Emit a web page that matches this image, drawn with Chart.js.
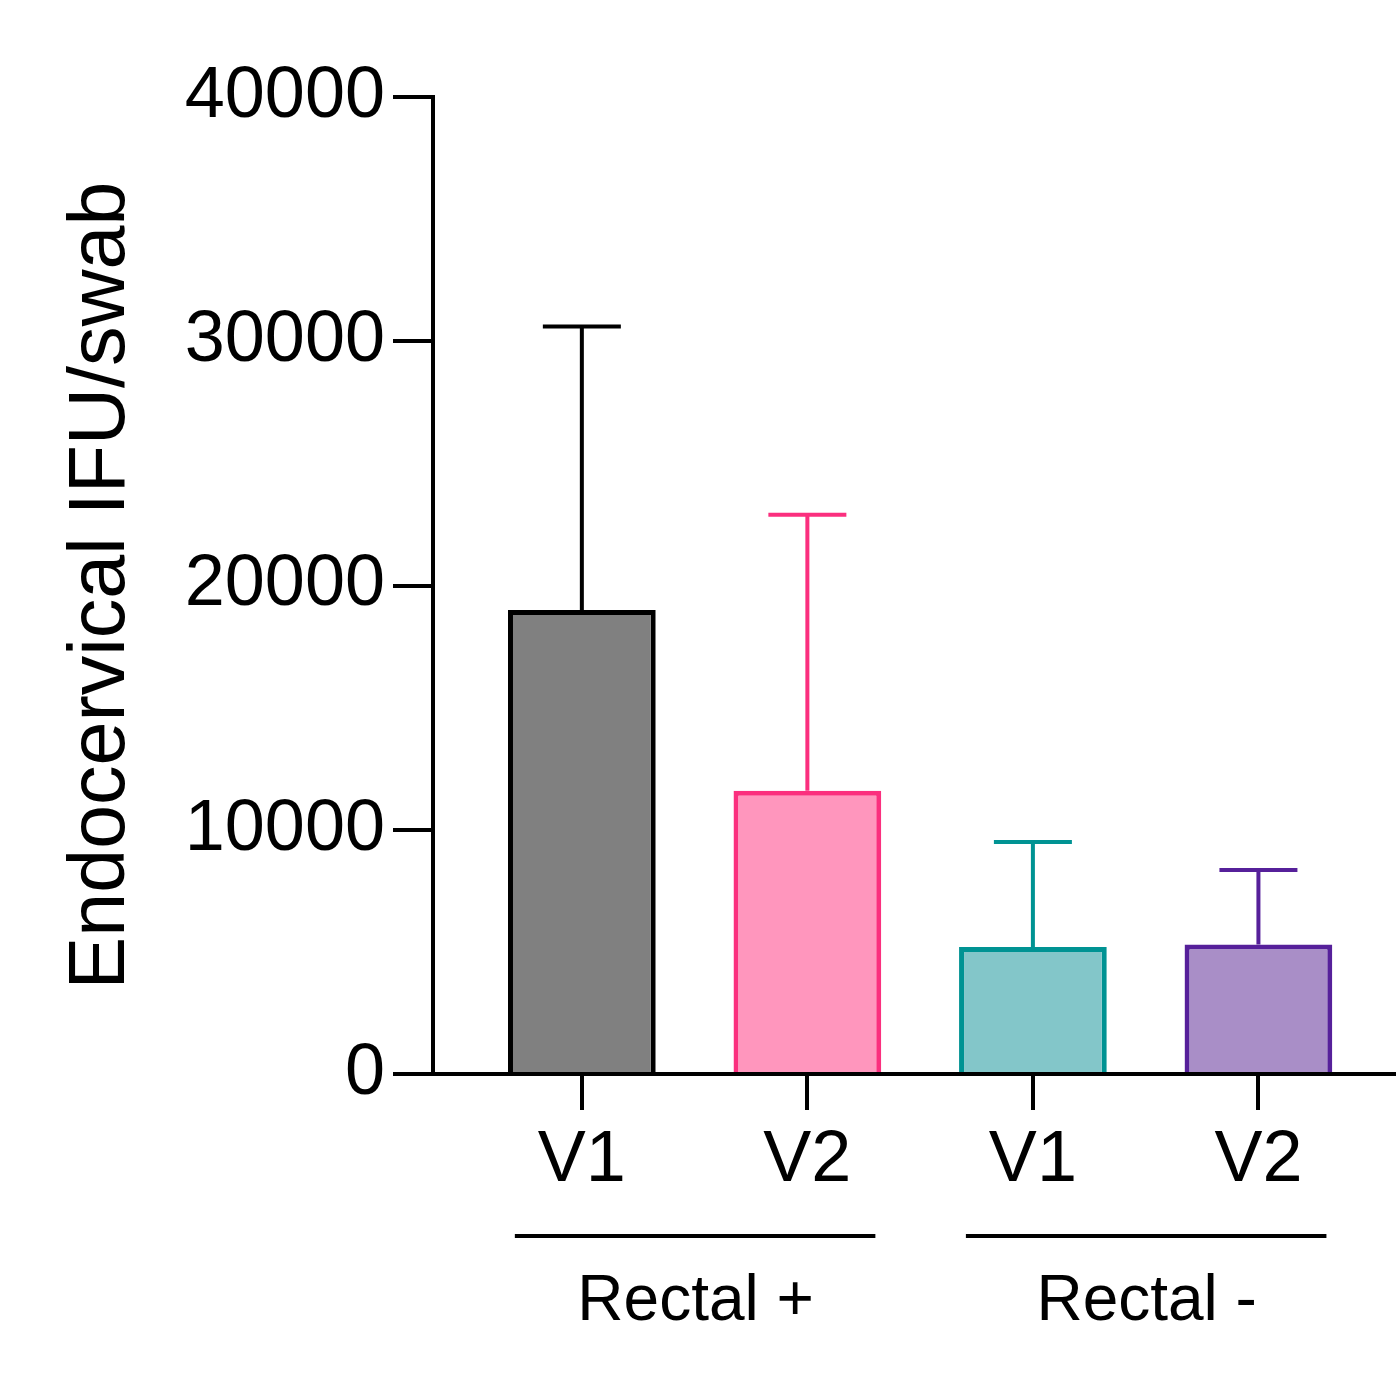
<!DOCTYPE html>
<html>
<head>
<meta charset="utf-8">
<script src="https://cdn.jsdelivr.net/npm/chart.js@4.4.1/dist/chart.umd.min.js"></script>
<style>
  html, body { margin: 0; padding: 0; background: #fff; }
  #wrap { width: 1396px; height: 1382px; }
</style>
</head>
<body>
<div id="wrap"><canvas id="barIFU"></canvas></div>
<script>
// dados
const categories = ['V1', 'V2', 'V1', 'V2'];
const groups = ['Rectal +', 'Rectal -'];
const means = [19000, 11600, 5200, 5300];
const sdUp = [11600, 11300, 4300, 3050];
const yTicks = [0, 10000, 20000, 30000, 40000];

const fills = ['#808080', '#ff96bd', '#83c6c9', '#a98ec7'];
const borders = ['#000000', '#fb2f7e', '#009393', '#56209a'];
const fam = "'Liberation Sans', Arial, Helvetica, sans-serif";

// barras de erro (so para cima)
const errorBars = {
    id: 'errorBars',
    afterDatasetsDraw(chart) {
        const ctx = chart.ctx;
        const xs = chart.scales.x, ys = chart.scales.y;
        ctx.save();
        ctx.lineWidth = 4;
        means.forEach((m, i) => {
            const x = xs.getPixelForValue(i);
            const yb = ys.getPixelForValue(m);
            const yt = ys.getPixelForValue(m + sdUp[i]);
            ctx.strokeStyle = borders[i];
            ctx.beginPath();
            ctx.moveTo(x, yb);
            ctx.lineTo(x, yt);
            ctx.moveTo(x - 39, yt);
            ctx.lineTo(x + 39, yt);
            ctx.stroke();
        });
        ctx.restore();
    }
};

// linhas e nomes dos grupos
const groupLabels = {
    id: 'groupLabels',
    afterDraw(chart) {
        const ctx = chart.ctx;
        const xs = chart.scales.x;
        ctx.save();
        ctx.strokeStyle = '#000';
        ctx.lineWidth = 4;
        ctx.fillStyle = '#000';
        ctx.font = '64px ' + fam;
        ctx.textAlign = 'center';
        ctx.textBaseline = 'middle';
        groups.forEach((g, k) => {
            const a = xs.getPixelForValue(k * 2);
            const b = xs.getPixelForValue(k * 2 + 1);
            ctx.beginPath();
            ctx.moveTo(a - 67, 1236);
            ctx.lineTo(b + 68, 1236);
            ctx.stroke();
            ctx.fillText(g, (a + b) / 2 + 1, 1302);
        });
        ctx.restore();
    }
};

const dadosIFU = {
    datasets: [{
        data: means.map((v, i) => ({ x: i, y: v })),
        backgroundColor: fills,
        borderColor: borders,
        borderWidth: 5,
        borderSkipped: 'bottom',
        barPercentage: 0.655,
        categoryPercentage: 1
    }]
};

const configIFU = {
    type: 'bar',
    data: dadosIFU,
    options: {
        responsive: false,
        animation: false,
        layout: { padding: { top: 97, left: 0, right: 0, bottom: 0 } },
        scales: {
            x: {
                type: 'linear',
                min: -0.66,
                max: 3.61,
                offset: false,
                z: 1,
                afterBuildTicks: (s) => { s.ticks = categories.map((c, i) => ({ value: i })); },
                afterFit: (s) => { s.height = 308; },
                border: { display: true, color: '#000', width: 4 },
                grid: { offset: false, drawOnChartArea: false, color: '#000', lineWidth: 4, tickLength: 36 },
                ticks: {
                    autoSkip: false,
                    maxRotation: 0,
                    color: '#000',
                    padding: 8,
                    font: { size: 72, family: fam },
                    callback: (v) => categories[v]
                }
            },
            y: {
                min: 0,
                max: 40000,
                z: 1,
                afterBuildTicks: (s) => { s.ticks = yTicks.map(v => ({ value: v })); },
                afterFit: (s) => { s.width = 433; },
                border: { display: true, color: '#000', width: 4 },
                grid: { drawOnChartArea: false, color: '#000', lineWidth: 4, tickLength: 40 },
                ticks: {
                    color: '#000',
                    padding: 8,
                    font: { size: 72, family: fam },
                    callback: (v) => String(v)
                },
                title: {
                    display: true,
                    text: 'Endocervical IFU/swab',
                    color: '#000',
                    padding: { top: 55, bottom: 0 },
                    font: { size: 79, family: fam }
                }
            }
        },
        plugins: {
            legend: { display: false },
            tooltip: { enabled: false },
            title: { display: false }
        }
    },
    plugins: [errorBars, groupLabels]
};

const ctxIFU = document.getElementById('barIFU').getContext('2d');
ctxIFU.canvas.width = 1396;
ctxIFU.canvas.height = 1382;
new Chart(ctxIFU, configIFU);
</script>
</body>
</html>
